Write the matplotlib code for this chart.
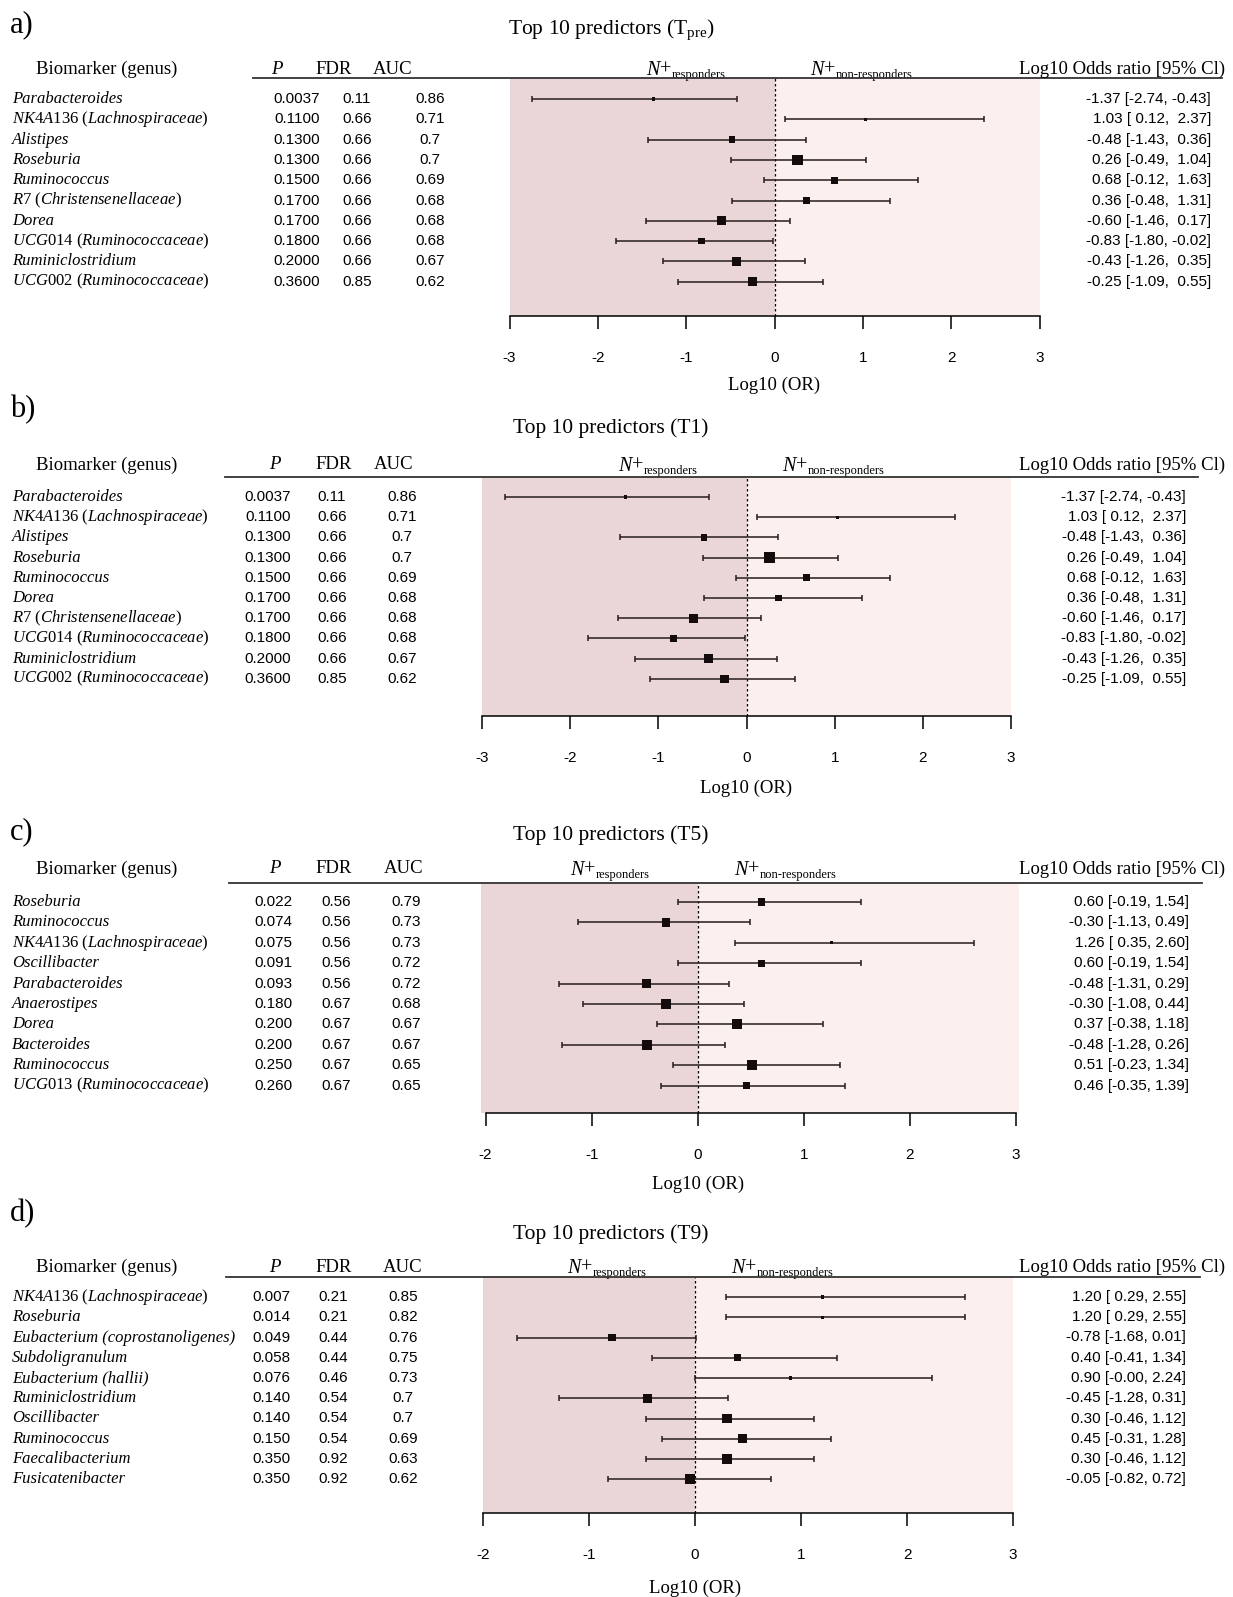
import matplotlib
matplotlib.use("Agg")
from matplotlib import pyplot as plt
from matplotlib import transforms
from matplotlib.lines import Line2D
import numpy as np

plt.rcParams['axes.unicode_minus'] = False
plt.rcParams['mathtext.fontset'] = 'custom'
plt.rcParams['mathtext.rm'] = 'Liberation Serif'
plt.rcParams['mathtext.it'] = 'Liberation Serif:italic'
plt.rcParams['mathtext.bf'] = 'Liberation Serif:bold'

SERIF = 'Liberation Serif'
SANS = 'Liberation Sans'

# ---- data ----
a_genus = ["Parabacteroides", "NK4A136", "Alistipes", "Roseburia", "Ruminococcus",
           "R7", "Dorea", "UCG014", "Ruminiclostridium", "UCG002"]
a_family = ["", "Lachnospiraceae", "", "", "", "Christensenellaceae", "",
            "Ruminococcaceae", "", "Ruminococcaceae"]
a_p = [0.0037, 0.11, 0.13, 0.13, 0.15, 0.17, 0.17, 0.18, 0.20, 0.36]
a_fdr = [0.11, 0.66, 0.66, 0.66, 0.66, 0.66, 0.66, 0.66, 0.66, 0.85]
a_auc = [0.86, 0.71, 0.7, 0.7, 0.69, 0.68, 0.68, 0.68, 0.67, 0.62]
a_est = [-1.37, 1.03, -0.48, 0.26, 0.68, 0.36, -0.60, -0.83, -0.43, -0.25]
a_lo = [-2.74, 0.12, -1.43, -0.49, -0.12, -0.48, -1.46, -1.80, -1.26, -1.09]
a_hi = [-0.43, 2.37, 0.36, 1.04, 1.63, 1.31, 0.17, -0.02, 0.35, 0.55]

b_genus = ["Parabacteroides", "NK4A136", "Alistipes", "Roseburia", "Ruminococcus",
           "Dorea", "R7", "UCG014", "Ruminiclostridium", "UCG002"]
b_family = ["", "Lachnospiraceae", "", "", "", "", "Christensenellaceae",
            "Ruminococcaceae", "", "Ruminococcaceae"]
b_p = [0.0037, 0.11, 0.13, 0.13, 0.15, 0.17, 0.17, 0.18, 0.20, 0.36]
b_fdr = [0.11, 0.66, 0.66, 0.66, 0.66, 0.66, 0.66, 0.66, 0.66, 0.85]
b_auc = [0.86, 0.71, 0.7, 0.7, 0.69, 0.68, 0.68, 0.68, 0.67, 0.62]
b_est = [-1.37, 1.03, -0.48, 0.26, 0.68, 0.36, -0.60, -0.83, -0.43, -0.25]
b_lo = [-2.74, 0.12, -1.43, -0.49, -0.12, -0.48, -1.46, -1.80, -1.26, -1.09]
b_hi = [-0.43, 2.37, 0.36, 1.04, 1.63, 1.31, 0.17, -0.02, 0.35, 0.55]

c_genus = ["Roseburia", "Ruminococcus", "NK4A136", "Oscillibacter", "Parabacteroides",
           "Anaerostipes", "Dorea", "Bacteroides", "Ruminococcus", "UCG013"]
c_family = ["", "", "Lachnospiraceae", "", "", "", "", "", "", "Ruminococcaceae"]
c_p = [0.022, 0.074, 0.075, 0.091, 0.093, 0.180, 0.200, 0.200, 0.250, 0.260]
c_fdr = [0.56, 0.56, 0.56, 0.56, 0.56, 0.67, 0.67, 0.67, 0.67, 0.67]
c_auc = [0.79, 0.73, 0.73, 0.72, 0.72, 0.68, 0.67, 0.67, 0.65, 0.65]
c_est = [0.60, -0.30, 1.26, 0.60, -0.48, -0.30, 0.37, -0.48, 0.51, 0.46]
c_lo = [-0.19, -1.13, 0.35, -0.19, -1.31, -1.08, -0.38, -1.28, -0.23, -0.35]
c_hi = [1.54, 0.49, 2.60, 1.54, 0.29, 0.44, 1.18, 0.26, 1.34, 1.39]

d_genus = ["NK4A136", "Roseburia", "Eubacterium (coprostanoligenes)", "Subdoligranulum",
           "Eubacterium (hallii)", "Ruminiclostridium", "Oscillibacter", "Ruminococcus",
           "Faecalibacterium", "Fusicatenibacter"]
d_family = ["Lachnospiraceae", "", "", "", "", "", "", "", "", ""]
d_p = [0.007, 0.014, 0.049, 0.058, 0.076, 0.140, 0.140, 0.150, 0.350, 0.350]
d_fdr = [0.21, 0.21, 0.44, 0.44, 0.46, 0.54, 0.54, 0.54, 0.92, 0.92]
d_auc = [0.85, 0.82, 0.76, 0.75, 0.73, 0.7, 0.7, 0.69, 0.63, 0.62]
d_est = [1.20, 1.20, -0.78, 0.40, 0.90, -0.45, 0.30, 0.45, 0.30, -0.05]
d_lo = [0.29, 0.29, -1.68, -0.41, -0.0, -1.28, -0.46, -0.31, -0.46, -0.82]
d_hi = [2.55, 2.55, 0.01, 1.34, 2.24, 0.31, 1.12, 1.28, 1.12, 0.72]

titles = [r"Top 10 predictors ($\mathrm{T}_{\mathrm{pre}}$)", "Top 10 predictors (T1)",
          "Top 10 predictors (T5)", "Top 10 predictors (T9)"]
tags = ["a)", "b)", "c)", "d)"]

# ---- layout (pixels in the 1233x1597 figure) ----
W, H = 1233, 1597
LEFT_COL = "#ead5d7"
RIGHT_COL = "#fcf0ef"
INK = "#261c1c"

layout = [
    dict(tag_y=25, title_y=28, head_y=69, line_x=(253, 1222), box=(509.5, 1039.5, 78, 316),
         row0=99, step=20.3, xlim=(-3, 3), shade=(-3, 3), cols=(297, 357, 430),
         heads=(277, 334, 393), ci_x=1211, pdec=4, xlab_y=385),
    dict(tag_y=410, title_y=427, head_y=465, line_x=(225, 1198), box=(482, 1011, 477, 716),
         row0=497, step=20.2, xlim=(-3, 3), shade=(-3, 3), cols=(268, 332, 402),
         heads=(275, 334, 394), ci_x=1186, pdec=4, xlab_y=788),
    dict(tag_y=832, title_y=834, head_y=869, line_x=(229, 1202), box=(485.6, 1016, 883, 1113),
         row0=902, step=20.4, xlim=(-2, 3), shade=(-2.04, 3.03), cols=(273, 336, 406),
         heads=(275, 334, 404), ci_x=1189, pdec=3, xlab_y=1184),
    dict(tag_y=1214, title_y=1233, head_y=1267, line_x=(226, 1200), box=(483, 1013, 1277, 1513),
         row0=1297, step=20.25, xlim=(-2, 3), shade=(-2, 3), cols=(271, 333.5, 403),
         heads=(275, 334, 403), ci_x=1186, pdec=3, xlab_y=1588),
]

panels = [
    (a_genus, a_family, a_p, a_fdr, a_auc, a_est, a_lo, a_hi),
    (b_genus, b_family, b_p, b_fdr, b_auc, b_est, b_lo, b_hi),
    (c_genus, c_family, c_p, c_fdr, c_auc, c_est, c_lo, c_hi),
    (d_genus, d_family, d_p, d_fdr, d_auc, d_est, d_lo, d_hi),
]


def fx(x):
    return x / W


def fy(y):
    return 1 - y / H


def n_plus(ax, tr, y, sub):
    # italic N, "+", then a small roman subscript (keeps the plain hyphen)
    t1 = ax.text(0, y, "N", transform=tr, ha='left', va='baseline',
                 fontfamily=SERIF, fontstyle='italic', fontsize=14.5)
    t2 = ax.annotate("+", xy=(1.0, 0.0), xycoords=t1, xytext=(0.3, 0),
                     textcoords='offset points', ha='left', va='bottom',
                     fontfamily=SERIF, fontsize=14.5)
    ax.annotate(sub, xy=(1.0, 0.0), xycoords=t2, xytext=(0.3, -0.8),
                textcoords='offset points', ha='left', va='bottom',
                fontfamily=SERIF, fontsize=9)


fig = plt.figure(figsize=(W / 100, H / 100), dpi=100)

for k, (genus, family, p, fdr, auc, est, lo, hi) in enumerate(panels):
    L = layout[k]
    x0, x1, top, bot = L['box']
    ax = fig.add_axes([fx(x0), fy(bot), (x1 - x0) / W, (bot - top) / H])
    n = len(genus)
    rows = np.arange(n)
    ax.set_xlim(*L['xlim'])
    ax.set_ylim((bot - L['row0']) / L['step'], (top - L['row0']) / L['step'])

    s0, s1 = L['shade']
    ax.axvspan(s0, 0, color=LEFT_COL, lw=0, zorder=0, clip_on=False)
    ax.axvspan(0, s1, color=RIGHT_COL, lw=0, zorder=0, clip_on=False)
    ax.axvline(0, color='black', lw=0.9, ls=(0, (2, 2)), zorder=1)

    est = np.array(est)
    lo = np.array(lo)
    hi = np.array(hi)
    ax.errorbar(est, rows, xerr=[est - lo, hi - est], fmt='none', ecolor=INK,
                elinewidth=1.1, capsize=2.4, capthick=1.1, zorder=2)
    # box side shrinks with CI width (weight-like sizing)
    side_px = 10.5 * (1.53 / (hi - lo)) ** 3
    side_pt = side_px * 72 / 100
    ax.scatter(est, rows, marker='s', s=side_pt ** 2, color="#140c0c", lw=0, zorder=3)

    for s in ['top', 'left', 'right']:
        ax.spines[s].set_visible(False)
    ax.spines['bottom'].set_linewidth(1.1)
    ax.spines['bottom'].set_zorder(4)
    ax.set_yticks([])
    ticks = np.arange(L['xlim'][0], L['xlim'][1] + 1)
    ax.set_xticks(ticks)
    ax.set_xticklabels([str(t) for t in ticks], fontfamily=SANS, fontsize=11)
    ax.tick_params(axis='x', direction='out', length=9.5, width=1.1, pad=16)

    # x label, centred on zero
    xl_tr = transforms.blended_transform_factory(ax.transData, fig.transFigure)
    ax.text(0, fy(L['xlab_y']), "Log10 (OR)", transform=xl_tr, ha='center', va='center',
            fontfamily=SERIF, fontsize=13.5)

    # N+ labels on header row
    resp_tr = transforms.offset_copy(xl_tr, fig=fig, x=-128, units='dots')
    non_tr = transforms.offset_copy(xl_tr, fig=fig, x=36, units='dots')
    base_y = fy(L['head_y'] + 6)
    n_plus(ax, resp_tr, base_y, "responders")
    n_plus(ax, non_tr, base_y, "non-responders")

    # table text, rows through the axes' y scale
    row_tr = transforms.blended_transform_factory(fig.transFigure, ax.transData)
    pc, fc, ac = L['cols']
    any_neg_hi = any(h < 0 for h in hi)
    for i in range(n):
        if family[i]:
            lab = r"$\mathit{" + genus[i] + r"}$ ($\mathit{" + family[i] + r"}$)"
            ax.text(fx(12), i, lab, transform=row_tr, ha='left', va='center',
                    fontfamily=SERIF, fontsize=12)
        else:
            ax.text(fx(12), i, genus[i], transform=row_tr, ha='left', va='center',
                    fontfamily=SERIF, fontstyle='italic', fontsize=12)
        ax.text(fx(pc), i, f"{p[i]:.{L['pdec']}f}", transform=row_tr, ha='center',
                va='center', fontfamily=SANS, fontsize=11)
        ax.text(fx(fc), i, f"{fdr[i]:.2f}", transform=row_tr, ha='center',
                va='center', fontfamily=SANS, fontsize=11)
        ax.text(fx(ac), i, f"{auc[i]:g}", transform=row_tr, ha='center',
                va='center', fontfamily=SANS, fontsize=11)
        hi_s = f"{hi[i]:5.2f}" if any_neg_hi else f"{hi[i]:.2f}"
        ci = f"{est[i]:.2f} [{lo[i]:5.2f}, {hi_s}]"
        ax.text(fx(L['ci_x']), i, ci, transform=row_tr, ha='right', va='center',
                fontfamily=SANS, fontsize=11)

    # headers
    hy = fy(L['head_y'])
    fig.text(fx(36), hy, "Biomarker (genus)", ha='left', va='center', fontfamily=SERIF,
             fontsize=13.5)
    hp, hf, ha_ = L['heads']
    fig.text(fx(hp), hy, "P", ha='center', va='center', fontfamily=SERIF,
             fontstyle='italic', fontsize=13.5)
    fig.text(fx(hf), hy, "FDR", ha='center', va='center', fontfamily=SERIF, fontsize=13.5)
    fig.text(fx(ha_), hy, "AUC", ha='center', va='center', fontfamily=SERIF, fontsize=13.5)
    fig.text(fx(1225), hy, "Log10 Odds ratio [95% Cl)", ha='right', va='center',
             fontfamily=SERIF, fontsize=13.5)
    lx0, lx1 = L['line_x']
    fig.add_artist(Line2D([fx(lx0), fx(lx1)], [fy(top), fy(top)], color='#333333', lw=1.3))

    fig.text(fx(611), fy(L['title_y'] + 6), titles[k], ha='center', va='baseline',
             fontfamily=SERIF, fontsize=15.5)
    fig.text(fx(10), fy(L['tag_y']), tags[k], ha='left', va='center', fontfamily=SERIF,
             fontsize=22)

fig.savefig("out.png", dpi=100)
